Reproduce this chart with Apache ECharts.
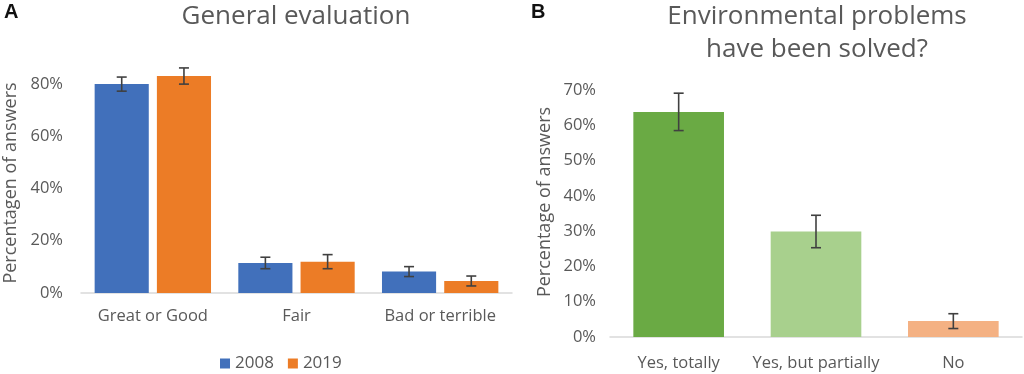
<!DOCTYPE html>
<html>
<head>
<meta charset="utf-8">
<script src="https://cdn.jsdelivr.net/npm/echarts@6/dist/echarts.min.js"></script>
<style>
html,body{margin:0;padding:0;background:#fff;}
#chart{width:1024px;height:374px;}
</style>
</head>
<body>
<div id="chart"></div>
<script>
// panel A
var evalCats = ['Great or Good', 'Fair', 'Bad or terrible'];
var years = ['2008', '2019'];
var eval2008 = [0.80, 0.115, 0.082];
var eval2019 = [0.831, 0.12, 0.046];
var err2008 = [0.027, 0.022, 0.019];
var err2019 = [0.031, 0.027, 0.019];

// panel B
var solvedCats = ['Yes, totally', 'Yes, but partially', 'No'];
var solvedVals = [0.638, 0.299, 0.045];
var solvedErr = [0.053, 0.046, 0.021];
var solvedColors = ['#6aaa44', '#a8d08d', '#f4b183'];

var textColor = '#595959';
var fontName = 'Open Sans';

var pctA = function (v) {
    var p = Math.round(v * 100);
    return p % 20 === 0 ? p + '%' : '';
};
var pctB = function (v) {
    return Math.round(v * 100) + '%';
};

// error bar drawing, offset = fraction of category width from center
var errorBars = function (vals, errs, offsetFrac) {
    return function (params, api) {
        var i = api.value(0);
        var catW = api.size([1, 0])[0];
        var top = api.coord([i, vals[i] + errs[i]]);
        var bot = api.coord([i, vals[i] - errs[i]]);
        var x = top[0] + catW * offsetFrac;
        var cap = 5;
        var st = {stroke: '#404040', lineWidth: 1.6};
        return {
            type: 'group',
            children: [
                {type: 'line', shape: {x1: x, y1: top[1], x2: x, y2: bot[1]}, style: st},
                {type: 'line', shape: {x1: x - cap, y1: top[1], x2: x + cap, y2: top[1]}, style: st},
                {type: 'line', shape: {x1: x - cap, y1: bot[1], x2: x + cap, y2: bot[1]}, style: st}
            ]
        };
    };
};

// bar geometry A: catGap 19%, barGap 15%
var barCatGapA = 0.19, barGapA = 0.15;
var barWA = (1 - barCatGapA) / (2 + barGapA);
var offA = (barWA + barWA * barGapA) / 2;

var chart = echarts.init(document.getElementById('chart'));
var option = {
    animation: false,
    textStyle: {fontFamily: fontName, color: textColor},
    title: [
        {text: 'General evaluation', left: 291, top: -1, textAlign: 'center',
            textStyle: {fontSize: 26, fontWeight: 'normal', color: textColor, fontFamily: fontName}},
        {text: 'Environmental problems\nhave been solved?', left: 812, top: -5, textAlign: 'center',
            textStyle: {fontSize: 26, fontWeight: 'normal', color: textColor, fontFamily: fontName, lineHeight: 33}}
    ],
    graphic: [
        {type: 'text', left: 4, top: 2, style: {text: 'A', font: 'bold 20px "Liberation Sans"', fill: '#111'}},
        {type: 'text', left: 531, top: 2, style: {text: 'B', font: 'bold 20px "Liberation Sans"', fill: '#111'}},
        {type: 'text', x: 11, y: 183, rotation: Math.PI / 2,
            style: {text: 'Percentagen of answers', align: 'center', verticalAlign: 'middle',
                font: '18px "Open Sans"', fill: textColor}},
        {type: 'text', x: 545, y: 202, rotation: Math.PI / 2,
            style: {text: 'Percentage of answers', align: 'center', verticalAlign: 'middle',
                font: '18px "Open Sans"', fill: textColor}}
    ],
    legend: {
        data: years,
        left: 215, top: 350,
        itemWidth: 10, itemHeight: 10, itemGap: 14,
        icon: 'rect',
        textStyle: {fontSize: 17, color: textColor, fontFamily: fontName}
    },
    grid: [
        {left: 81, top: 58, width: 431, height: 235},
        {left: 610, top: 90, width: 412, height: 247}
    ],
    xAxis: [
        {type: 'category', gridIndex: 0, data: evalCats,
            axisLine: {lineStyle: {color: '#d9d9d9', width: 1.5}}, axisTick: {show: false},
            axisLabel: {fontSize: 16.5, color: textColor, margin: 15, interval: 0}},
        {type: 'category', gridIndex: 1, data: solvedCats,
            axisLine: {lineStyle: {color: '#d9d9d9', width: 1.5}}, axisTick: {show: false},
            axisLabel: {fontSize: 16.5, color: textColor, margin: 18, interval: 0}}
    ],
    yAxis: [
        {type: 'value', gridIndex: 0, min: 0, max: 0.9, interval: 0.2,
            splitLine: {show: false}, axisLine: {show: false}, axisTick: {show: false},
            axisLabel: {fontSize: 16.5, color: textColor, formatter: pctA, margin: 18}},
        {type: 'value', gridIndex: 1, min: 0, max: 0.7, interval: 0.1,
            splitLine: {show: false}, axisLine: {show: false}, axisTick: {show: false},
            axisLabel: {fontSize: 16.5, color: textColor, formatter: pctB, margin: 14}}
    ],
    series: [
        {name: '2008', type: 'bar', xAxisIndex: 0, yAxisIndex: 0, data: eval2008,
            barGap: (barGapA * 100) + '%', barCategoryGap: (barCatGapA * 100) + '%',
            itemStyle: {color: '#4170bb'}},
        {name: '2019', type: 'bar', xAxisIndex: 0, yAxisIndex: 0, data: eval2019,
            itemStyle: {color: '#ec7c26'}},
        {type: 'custom', xAxisIndex: 0, yAxisIndex: 0, data: [0, 1, 2],
            renderItem: errorBars(eval2008, err2008, -offA), z: 5},
        {type: 'custom', xAxisIndex: 0, yAxisIndex: 0, data: [0, 1, 2],
            renderItem: errorBars(eval2019, err2019, offA), z: 5},
        {name: 'solved', type: 'bar', xAxisIndex: 1, yAxisIndex: 1,
            barCategoryGap: '34%',
            data: solvedVals.map(function (v, i) {
                return {value: v, itemStyle: {color: solvedColors[i]}};
            })},
        {type: 'custom', xAxisIndex: 1, yAxisIndex: 1, data: [0, 1, 2],
            renderItem: errorBars(solvedVals, solvedErr, 0), z: 5}
    ]
};
chart.setOption(option);
</script>
</body>
</html>
